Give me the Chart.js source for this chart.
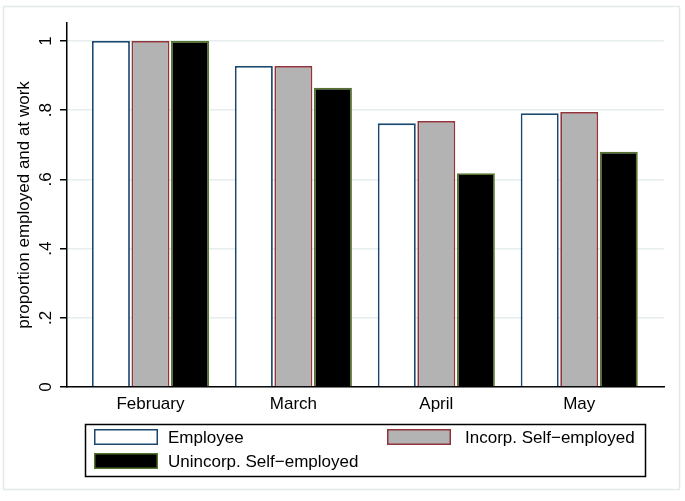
<!DOCTYPE html>
<html>
<head>
<meta charset="utf-8">
<script src="https://cdn.jsdelivr.net/npm/chart.js@4.4.1/dist/chart.umd.min.js"></script>
<style>
  html, body { margin: 0; padding: 0; background: #fff; }
  #wrap { width: 685px; height: 501px; position: relative; }
</style>
</head>
<body>
<div id="wrap"><canvas id="chart"></canvas></div>
<script>
const months = ["February", "March", "April", "May"];
const employee = [1, 0.928, 0.762, 0.791];
const incorp = [1, 0.928, 0.769, 0.795];
const unincorp = [1, 0.865, 0.618, 0.680];
const yTicks = [0, 0.2, 0.4, 0.6, 0.8, 1];

const fontFamily = "'Liberation Sans', Arial, Helvetica, sans-serif";
const fontSize = 17;

function points(values) {
    return values.map((v, i) => ({ x: i, y: v }));
}

// light frame around the whole graph region
const frame = {
    id: "frame",
    beforeDraw(chart) {
        const ctx = chart.ctx;
        ctx.save();
        ctx.fillStyle = "#ffffff";
        ctx.fillRect(0, 0, chart.width, chart.height);
        ctx.strokeStyle = "#e3eaea";
        ctx.lineWidth = 1.5;
        ctx.strokeRect(3.5, 6.5, 676, 483);
        ctx.restore();
    }
};

// two-column legend box under the plot
const boxLegend = {
    id: "boxLegend",
    afterDraw(chart) {
        const ctx = chart.ctx;
        const ds = chart.data.datasets;
        const slots = [
            { kx: 94, ky: 429, tx: 168, ty: 437 },
            { kx: 387, ky: 429, tx: 465, ty: 437 },
            { kx: 94, ky: 453, tx: 168, ty: 461 }
        ];
        ctx.save();
        ctx.strokeStyle = "#000";
        ctx.lineWidth = 1.5;
        ctx.strokeRect(85.5, 424.5, 560, 52);
        ctx.font = fontSize + "px " + fontFamily;
        ctx.textBaseline = "middle";
        ctx.textAlign = "left";
        ds.forEach((d, i) => {
            const s = slots[i];
            ctx.fillStyle = d.backgroundColor;
            ctx.fillRect(s.kx, s.ky, 64, 16);
            ctx.strokeStyle = d.borderColor;
            ctx.lineWidth = 1.5;
            ctx.strokeRect(s.kx + 0.75, s.ky + 0.75, 62.5, 14.5);
            ctx.fillStyle = "#000";
            ctx.fillText(d.label, s.tx, s.ty + 1);
        });
        ctx.restore();
    }
};

new Chart(document.getElementById("chart").getContext("2d"), {
    type: "bar",
    data: {
        datasets: [
            {
                label: "Employee",
                data: points(employee),
                backgroundColor: "#ffffff",
                borderColor: "#1a476f",
                borderWidth: 1.8
            },
            {
                label: "Incorp. Self\u2212employed",
                data: points(incorp),
                backgroundColor: "#b3b3b3",
                borderColor: "#90353b",
                borderWidth: 1.8
            },
            {
                label: "Unincorp. Self\u2212employed",
                data: points(unincorp),
                backgroundColor: "#000000",
                borderColor: "#55752f",
                borderWidth: 1.8
            }
        ]
    },
    options: {
        responsive: true,
        maintainAspectRatio: false,
        animation: false,
        categoryPercentage: 0.83,
        barPercentage: 0.96,
        layout: { padding: { top: 23, right: 21, bottom: 0, left: 0 } },
        plugins: {
            legend: { display: false },
            tooltip: { enabled: false }
        },
        scales: {
            x: {
                type: "linear",
                offset: false,
                min: -0.584,
                max: 3.593,
                afterFit(scale) { scale.height = 114; },
                afterBuildTicks(scale) {
                    scale.ticks = months.map((m, i) => ({ value: i }));
                },
                grid: { display: false, drawTicks: false },
                border: { display: true, color: "#000", width: 1.5 },
                ticks: {
                    autoSkip: false,
                    maxRotation: 0,
                    padding: 7,
                    color: "#000",
                    font: { family: fontFamily, size: fontSize },
                    callback: (v) => months[v] ?? ""
                }
            },
            y: {
                min: 0,
                max: 1.052,
                afterFit(scale) { scale.width = 67; },
                afterBuildTicks(scale) {
                    scale.ticks = yTicks.map(v => ({ value: v }));
                },
                grid: {
                    color: "#e6eded",
                    lineWidth: 1.5,
                    tickColor: "#000",
                    tickLength: 7,
                    tickWidth: 1.5
                },
                border: { display: true, color: "#000", width: 1.5 },
                ticks: {
                    minRotation: 90,
                    maxRotation: 90,
                    crossAlign: "center",
                    padding: 7,
                    color: "#000",
                    font: { family: fontFamily, size: fontSize },
                    callback: (v) => v === 0 ? "0" : v === 1 ? "1" : String(Math.round(v * 10) / 10).replace(/^0/, "")
                },
                title: {
                    display: true,
                    text: "proportion employed and at work",
                    color: "#000",
                    padding: { top: 14, bottom: 0 },
                    font: { family: fontFamily, size: fontSize }
                }
            }
        }
    },
    plugins: [frame, boxLegend]
});
</script>
</body>
</html>
